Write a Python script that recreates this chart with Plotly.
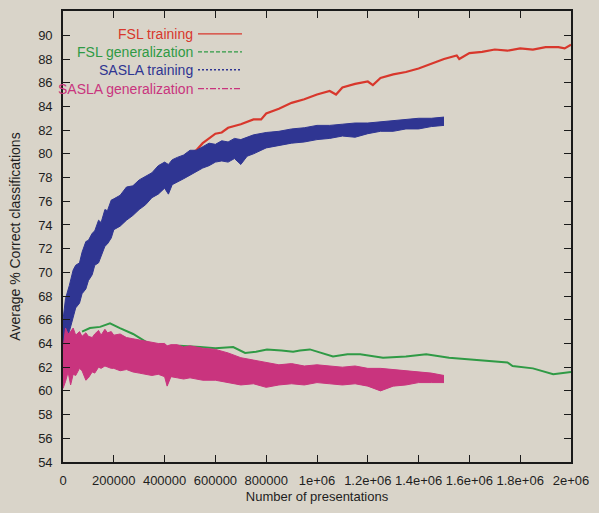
import plotly.graph_objects as go

# ---------------- data ----------------
# FSL training (red)
fsl_train_x = [0, 25000, 50000, 100000, 150000, 200000, 250000, 300000, 350000, 400000,
               450000, 500000, 525000, 550000, 600000, 625000, 650000, 700000, 750000, 780000,
               800000, 850000, 900000, 950000, 1000000, 1050000, 1075000, 1100000, 1150000,
               1200000, 1220000, 1250000, 1300000, 1350000, 1400000, 1450000, 1500000,
               1550000, 1560000, 1600000, 1650000, 1700000, 1750000, 1800000, 1850000,
               1900000, 1950000, 1975000, 2000000]
fsl_train_y = [64.5, 66.5, 68.3, 70.8, 72.6, 74.2, 75.4, 76.3, 77.1, 78.0,
               79.0, 80.0, 80.3, 80.9, 81.7, 81.8, 82.2, 82.5, 82.9, 82.9,
               83.4, 83.8, 84.3, 84.6, 85.0, 85.3, 85.0, 85.6, 85.9,
               86.1, 85.8, 86.4, 86.7, 86.9, 87.2, 87.6, 88.0,
               88.3, 88.0, 88.5, 88.6, 88.8, 88.7, 88.9, 88.8,
               89.0, 89.0, 88.9, 89.2]

# FSL generalization (green)
fsl_gen_x = [75000, 106000, 146000, 185000, 224000, 276000, 330000, 354000, 409000, 460000,
             540000, 600000, 670000, 717000, 760000, 803000, 860000, 906000, 933000, 972000,
             1063000, 1120000, 1170000, 1260000, 1350000, 1430000, 1520000, 1580000, 1640000,
             1750000, 1770000, 1850000, 1930000, 2000000]
fsl_gen_y = [65.0, 65.3, 65.4, 65.7, 65.3, 64.8, 64.1, 63.7, 63.7, 63.8,
             63.7, 63.6, 63.7, 63.2, 63.3, 63.5, 63.4, 63.3, 63.4, 63.5,
             62.9, 63.1, 63.1, 62.8, 62.9, 63.1, 62.8, 62.7, 62.6,
             62.4, 62.1, 61.9, 61.4, 61.6]

# SASLA training (blue) - noise envelope
sasla_train_x = [0, 10000, 25000, 40000, 50000, 65000, 75000, 90000, 100000, 115000,
                 125000, 140000, 150000, 165000, 175000, 190000, 200000, 225000, 250000,
                 275000, 300000, 325000, 350000, 375000, 400000, 415000, 430000, 450000,
                 475000, 500000, 525000, 550000, 575000, 600000, 625000, 650000, 675000,
                 700000, 725000, 750000, 800000, 850000, 900000, 950000, 1000000, 1050000,
                 1100000, 1150000, 1200000, 1250000, 1300000, 1350000, 1400000, 1450000,
                 1500000]
sasla_train_lo = [62.8, 64.0, 65.0, 66.3, 67.0, 67.4, 68.2, 68.6, 69.3, 69.8,
                  70.6, 70.8, 71.4, 72.2, 72.4, 72.9, 73.6, 73.9, 74.4,
                  74.8, 75.3, 75.7, 76.3, 76.6, 77.1, 76.6, 77.4, 77.6,
                  77.9, 78.2, 78.5, 78.8, 79.0, 79.3, 79.4, 79.3, 79.6,
                  79.1, 79.8, 80.0, 80.5, 80.7, 80.9, 81.0, 81.2, 81.3,
                  81.5, 81.4, 81.7, 81.9, 81.9, 82.1, 82.1, 82.3,
                  82.4]
sasla_train_hi = [66.0, 67.8, 68.9, 70.2, 70.6, 70.8, 71.7, 72.6, 72.7, 73.3,
                  73.5, 74.4, 74.2, 75.3, 75.2, 76.1, 76.2, 76.5, 77.2,
                  77.3, 77.8, 78.1, 78.4, 79.0, 79.3, 79.1, 79.5, 79.7,
                  79.9, 80.3, 80.3, 80.6, 80.9, 80.8, 81.1, 81.0, 81.3,
                  81.2, 81.4, 81.6, 81.8, 81.9, 82.1, 82.2, 82.4, 82.4,
                  82.5, 82.6, 82.6, 82.7, 82.8, 82.9, 83.0, 83.0,
                  83.1]

# SASLA generalization (pink) - noise envelope
sasla_gen_x = [0, 10000, 20000, 30000, 40000, 50000, 65000, 75000, 90000, 100000,
               115000, 125000, 140000, 150000, 165000, 175000, 190000, 200000, 225000,
               250000, 275000, 300000, 325000, 350000, 375000, 400000, 410000, 425000,
               450000, 475000, 500000, 550000, 600000, 650000, 700000, 750000, 800000,
               850000, 900000, 950000, 1000000, 1050000, 1100000, 1150000, 1200000,
               1250000, 1300000, 1350000, 1400000, 1450000, 1500000]
sasla_gen_lo = [60.2, 60.8, 61.6, 60.5, 61.4, 61.3, 61.9, 61.7, 60.9, 61.1,
                61.6, 61.5, 62.0, 61.9, 62.1, 62.0, 61.9, 61.9, 61.7,
                61.8, 61.6, 61.5, 61.4, 61.3, 61.4, 61.2, 60.4, 61.2,
                61.1, 61.0, 61.1, 60.9, 60.9, 60.7, 60.5, 60.6, 60.3,
                60.5, 60.6, 60.5, 60.7, 60.6, 60.5, 60.6, 60.4,
                60.0, 60.4, 60.5, 60.7, 60.7, 60.7]
sasla_gen_hi = [63.5, 65.3, 64.8, 65.0, 65.3, 64.7, 65.0, 64.6, 64.9, 64.6,
                64.5, 64.8, 65.1, 64.7, 65.2, 64.9, 65.0, 64.7, 64.8,
                64.5, 64.4, 64.3, 64.2, 64.1, 64.0, 64.0, 63.8, 63.9,
                63.9, 63.7, 63.8, 63.6, 63.5, 63.2, 62.8, 62.6, 62.4,
                62.2, 62.3, 62.1, 62.2, 62.1, 62.0, 62.1, 61.9,
                61.9, 61.8, 61.7, 61.6, 61.5, 61.3]

x_ticks = [0, 200000, 400000, 600000, 800000, 1000000, 1200000, 1400000, 1600000, 1800000, 2000000]
x_tick_text = ["0", "200000", "400000", "600000", "800000", "1e+06", "1.2e+06",
               "1.4e+06", "1.6e+06", "1.8e+06", "2e+06"]
y_ticks = list(range(54, 91, 2))

legend_names = ["FSL training", "FSL generalization", "SASLA training", "SASLA generalization"]

# ---------------- styles ----------------
RED = "#d8372c"
GREEN = "#2f9a45"
BLUE = "#2f3592"
PINK = "#c9347e"
BG = "#d9d4c9"
FONT = "Liberation Sans, Arial, sans-serif"

fig = go.Figure()

def band(xs, lo, hi, col):
    fig.add_trace(go.Scatter(x=xs, y=lo, mode="lines",
                             line=dict(color=col, width=1), showlegend=False, hoverinfo="skip"))
    fig.add_trace(go.Scatter(x=xs, y=hi, mode="lines", fill="tonexty",
                             fillcolor=col, line=dict(color=col, width=1), showlegend=False))

# FSL training first, blue band drawn on top of it
fig.add_trace(go.Scatter(x=fsl_train_x, y=fsl_train_y, mode="lines",
                         line=dict(color=RED, width=2.2), showlegend=False))
band(sasla_train_x, sasla_train_lo, sasla_train_hi, BLUE)

# FSL generalization
fig.add_trace(go.Scatter(x=fsl_gen_x, y=fsl_gen_y, mode="lines",
                         line=dict(color=GREEN, width=2), showlegend=False))
# SASLA generalization
band(sasla_gen_x, sasla_gen_lo, sasla_gen_hi, PINK)

# ---------------- manual gnuplot-style key ----------------
key_colors = [RED, GREEN, BLUE, PINK]
key_dash = ["solid", "4px,2px", "2px,2px", "6px,2px,2px,2px"]
L, R, T, B = 63, 28, 9, 51
W, H = 599, 513
pw, ph = W - L - R, H - T - B
row_y = [32, 50, 68, 87]
text_right = 192
samp_x0, samp_x1 = 198, 242
for name, col, dsh, yy in zip(legend_names, key_colors, key_dash, row_y):
    yp = 1 - (yy - T) / ph
    fig.add_annotation(xref="paper", yref="paper", x=(text_right - L) / pw, y=yp,
                       text=name, showarrow=False, xanchor="right", yanchor="middle",
                       xshift=3,
                       font=dict(family=FONT, size=14, color=col))
    fig.add_shape(type="line", xref="paper", yref="paper",
                  x0=(samp_x0 - L) / pw, x1=(samp_x1 - L) / pw, y0=yp, y1=yp,
                  line=dict(color=col, width=1.3, dash=dsh))

axis_common = dict(showline=True, linecolor="#1a1a1a", linewidth=1.6, mirror="ticks",
                   ticks="inside", ticklen=7, tickwidth=1.4, tickcolor="#1a1a1a",
                   showgrid=False, zeroline=False,
                   tickfont=dict(family=FONT, size=13, color="#1e1e1e"))

fig.update_layout(
    width=W, height=H,
    margin=dict(l=L, r=R, t=T, b=B),
    paper_bgcolor=BG, plot_bgcolor=BG,
    showlegend=False,
    xaxis=dict(range=[0, 2000000], tickvals=x_ticks, ticktext=x_tick_text,
               ticklabelstandoff=6,
               title=dict(text="Number of presentations", standoff=4,
                          font=dict(family=FONT, size=13, color="#1e1e1e")),
               **axis_common),
    yaxis=dict(range=[54, 92.05], tickvals=y_ticks, ticklabelstandoff=6,
               title=dict(text="Average % Correct classifications", standoff=14,
                          font=dict(family=FONT, size=14, color="#1e1e1e")),
               **axis_common),
)

fig.write_html("out.html")
